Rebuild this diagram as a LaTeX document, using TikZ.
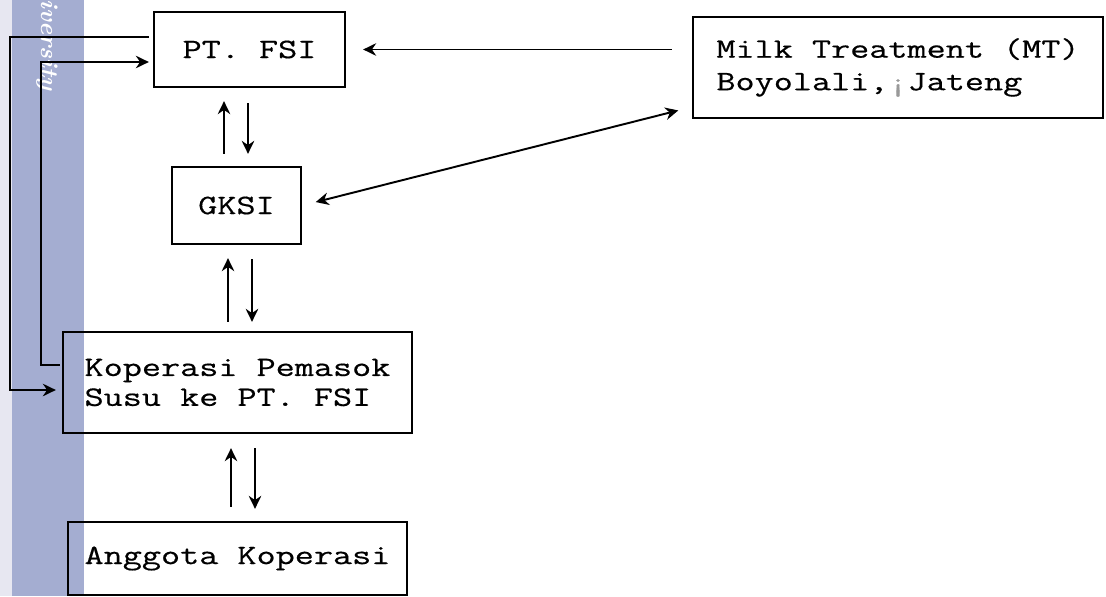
\documentclass[tikz,border=0pt]{standalone}
\usepackage{fontspec}
\newfontfamily\typefont[FakeStretch=1.32, FakeBold=0.5]{Latin Modern Mono}
\usetikzlibrary{arrows.meta,positioning,calc}
\definecolor{stripe}{HTML}{A4ADD1}
\definecolor{stripelite}{HTML}{E7E7F1}

\begin{document}
\begin{tikzpicture}[
  >={Stealth[length=2.6mm, width=2.5mm]},
  box/.style={rectangle, draw, line width=1.3pt, inner sep=0pt, align=left, font=\typefont\fontsize{16}{17}\selectfont},
  link/.style={line width=1.1pt, ->}
]
  \useasboundingbox (0,0) rectangle (22.12,-11.92);
  % Stripe at the left edge
  \fill[stripelite] (0,0) rectangle (0.24,-11.92);
  \fill[stripe] (0.24,0) rectangle (1.68,-11.92);
  \node[rotate=-90, anchor=west, inner sep=0pt, text=white, font=\bfseries\itshape\fontsize{14}{14}\selectfont] (wmark) at (0.94,0.02) {iversity};
  % Boxes
  \node[box, minimum width=3.82cm, minimum height=1.5cm] (ptfsi) at (4.99,-0.99) {PT. FSI};
  \node[box, minimum width=2.58cm, minimum height=1.54cm] (gksi) at (4.73,-4.11) {GKSI};
  \node[box, minimum width=8.2cm, minimum height=2.02cm, font=\typefont\fontsize{16}{18.5}\selectfont] (mt) at (17.96,-1.35) {Milk Treatment (MT)\\Boyolali,{\color{black!40}¡}Jateng};
  \node[box, minimum width=6.98cm, minimum height=2.02cm] (kop) at (4.75,-7.65) {Koperasi Pemasok\\Susu ke PT. FSI};
  \node[box, minimum width=6.78cm, minimum height=1.46cm] (ang) at (4.75,-11.17) {Anggota Koperasi};
  % PT. FSI -- GKSI
  \draw[link, shorten <=0.24cm, shorten >=0.26cm] ([xshift=-0.25cm]gksi.north) -- ([xshift=-0.25cm]gksi.north |- ptfsi.south);
  \draw[link, shorten <=0.3cm, shorten >=0.24cm] ([xshift=0.23cm]gksi.north |- ptfsi.south) -- ([xshift=0.23cm]gksi.north);
  % GKSI -- Koperasi
  \draw[link, shorten <=0.18cm, shorten >=0.26cm] ([xshift=-0.19cm]kop.north) -- ([xshift=-0.19cm]kop.north |- gksi.south);
  \draw[link, shorten <=0.28cm, shorten >=0.18cm] ([xshift=0.29cm]kop.north |- gksi.south) -- ([xshift=0.29cm]kop.north);
  % Koperasi -- Anggota
  \draw[link, shorten <=0.28cm, shorten >=0.28cm] ([xshift=-0.13cm]ang.north) -- ([xshift=-0.13cm]ang.north |- kop.south);
  \draw[link, shorten <=0.28cm, shorten >=0.24cm] ([xshift=0.35cm]ang.north |- kop.south) -- ([xshift=0.35cm]ang.north);
  % Milk Treatment
  \draw[link, shorten <=0.4cm, shorten >=0.34cm] (mt.west |- ptfsi.east) -- (ptfsi.east);
  \draw[link, <->, shorten <=0.28cm, shorten >=0.28cm] (gksi.east) -- ([yshift=-0.79cm]mt.west);
  % Loops on the left
  \draw[link, shorten <=0.08cm, shorten >=0.12cm] ([yshift=0.25cm]ptfsi.west) -- ++(-2.86,0) |- ([yshift=-0.15cm]kop.west);
  \draw[link, shorten <=0.04cm, shorten >=0.08cm] ([yshift=0.35cm]kop.west) -- ++(-0.42,0) |- ([yshift=-0.25cm]ptfsi.west);
\end{tikzpicture}
\end{document}
